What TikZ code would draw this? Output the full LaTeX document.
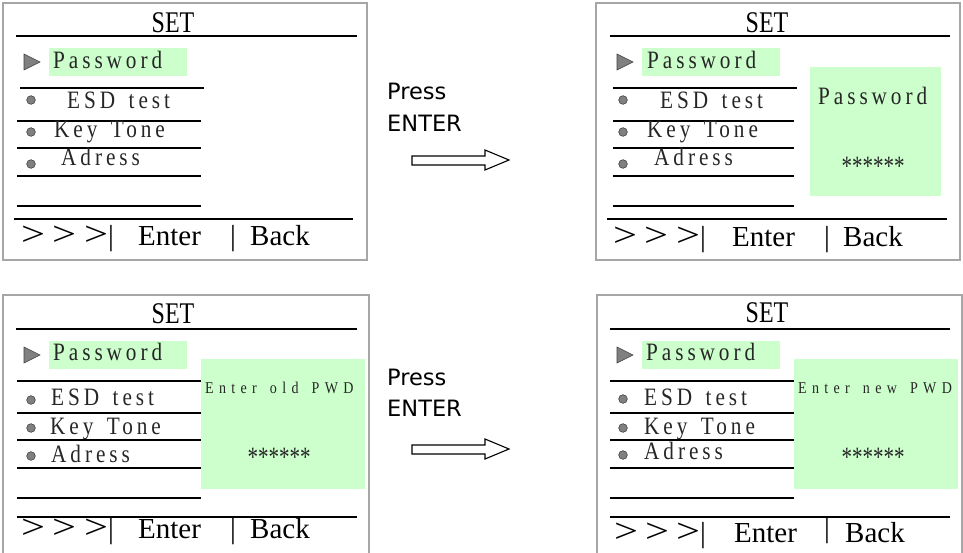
\documentclass[tikz,border=0pt]{standalone}
\usepackage{fontspec}
\setmainfont{Liberation Serif}
\newfontfamily\lcdsp{Liberation Serif}[LetterSpace=18.5]
\newfontfamily\lcdwide{Liberation Serif}[LetterSpace=38]
\newfontfamily\pressfont{DejaVu Sans}
\definecolor{lgreen}{HTML}{CCFFCC}
\definecolor{framegray}{HTML}{A6A6A6}
\tikzset{
  frame/.style={draw=framegray, line width=1.2pt},
  rule/.style={draw=black, line width=1.1pt},
  hl/.style={fill=lgreen},
  tri/.style={fill=black!50, draw=black!75, line width=0.6pt},
  dot/.style={fill=black!50, draw=black!75, line width=0.6pt},
  item/.style={font={\lcdsp\fontsize{25}{25}\selectfont}, inner sep=0pt, anchor=base west, text=black!85},
  small/.style={font={\lcdwide\fontsize{16.5}{16.5}\selectfont}, inner sep=0pt, anchor=base west, text=black!85},
  stars/.style={font={\fontsize{28}{28}\selectfont}, inner sep=0pt, anchor=base, text=black!85},
  settitle/.style={font={\fontsize{30}{30}\selectfont}, inner sep=0pt, anchor=base},
  bot/.style={font={\fontsize{29}{29}\selectfont}, inner sep=0pt, anchor=base west},
  chev/.style={font={\fontsize{34}{34}\selectfont}, inner sep=0pt, anchor=base west},
  press/.style={font={\pressfont\fontsize{22.5}{22.5}\selectfont}, inner sep=0pt, anchor=base west},
  blockarrow/.style={draw=black, line width=1.1pt, fill=white},
}
\newcommand\chevs{\scalebox{1.25}[1]{>}}
\newcommand\starrow{\scalebox{0.75}[1]{******}}
\newcommand\sq[1]{\scalebox{0.85}[1]{#1}}
\newcommand\wsp{\hspace{5pt}}
\begin{document}
\begin{tikzpicture}[x=1pt, y=-1pt]
\useasboundingbox (0,0) rectangle (963,552);
\clip (0,0) rectangle (963,552);

% ================= Panel 1 =================
\draw[frame] (3,3) rectangle (367,260);
\node[settitle] (p1set) at (173,32) {\scalebox{0.8}[1]{SET}};
\draw[rule] (16,36) -- (357,36);
\fill[hl] (49,48) rectangle (187,76);
\draw[tri] (24,54) -- (40,62) -- (24,70) -- cycle;
\node[item] (p1pw) at (53,68) {\sq{Password}};
\draw[rule] (20,88) -- (204,88);
\draw[dot] (31,100) circle[radius=4.3pt];
\node[item] (p1esd) at (67,108) {\sq{ESD \wsp test}};
\draw[rule] (17,121) -- (201,121);
\draw[dot] (31,132) circle[radius=4.3pt];
\node[item] (p1key) at (54,137) {\sq{Key \wsp Tone}};
\draw[rule] (17,148) -- (201,148);
\draw[dot] (31,164) circle[radius=4.3pt];
\node[item] (p1adr) at (61,165) {\sq{Adress}};
\draw[rule] (17,176) -- (201,176);
\draw[rule] (17,206) -- (201,206);
\draw[rule] (14,219) -- (353,219);
\node[chev] (p1c1) at (21,245) {\chevs};
\node[chev] (p1c2) at (52,245) {\chevs};
\node[chev] (p1c3) at (84,245) {\chevs};
\node[bot] (p1b1) at (108,245) {|};
\node[bot] (p1ent) at (138,245) {Enter};
\node[bot] (p1b2) at (230,245) {|};
\node[bot] (p1back) at (250,245) {Back};

% ================= Panel 2 =================
\draw[frame] (596,3) rectangle (960,260);
\node[settitle] (p2set) at (767,32) {\scalebox{0.8}[1]{SET}};
\draw[rule] (610,36) -- (950,36);
\fill[hl] (642,48) rectangle (780,76);
\draw[tri] (617,54) -- (633,62) -- (617,70) -- cycle;
\node[item] (p2pw) at (647,68) {\sq{Password}};
\draw[rule] (613,88) -- (797,88);
\draw[dot] (623,100) circle[radius=4.3pt];
\node[item] (p2esd) at (660,108) {\sq{ESD \wsp test}};
\draw[rule] (613,121) -- (794,121);
\draw[dot] (623,132) circle[radius=4.3pt];
\node[item] (p2key) at (647,137) {\sq{Key \wsp Tone}};
\draw[rule] (613,148) -- (794,148);
\draw[dot] (623,164) circle[radius=4.3pt];
\node[item] (p2adr) at (654,165) {\sq{Adress}};
\draw[rule] (613,176) -- (794,176);
\draw[rule] (613,206) -- (794,206);
\fill[hl] (810,67) rectangle (941,196);
\node[item] (p2pop) at (818,104) {\sq{Password}};
\node[stars] (p2stars) at (873,175) {\starrow};
\draw[rule] (607,219) -- (947,219);
\node[chev] (p2c1) at (613,246) {\chevs};
\node[chev] (p2c2) at (644,246) {\chevs};
\node[chev] (p2c3) at (676,246) {\chevs};
\node[bot] (p2b1) at (700,246) {|};
\node[bot] (p2ent) at (732,246) {Enter};
\node[bot] (p2b2) at (824,246) {|};
\node[bot] (p2back) at (843,246) {Back};

% ================= Panel 3 =================
\draw[frame] (3,560) -- (3,295) -- (369,295) -- (369,560);
\node[settitle] (p3set) at (173,323) {\scalebox{0.8}[1]{SET}};
\draw[rule] (16,329) -- (357,329);
\fill[hl] (49,341) rectangle (187,369);
\draw[tri] (24,347) -- (40,355) -- (24,363) -- cycle;
\node[item] (p3pw) at (53,360) {\sq{Password}};
\draw[rule] (17,381) -- (201,381);
\draw[dot] (31,400) circle[radius=4.3pt];
\node[item] (p3esd) at (51,405) {\sq{ESD \wsp test}};
\draw[rule] (17,413) -- (201,413);
\draw[dot] (31,428) circle[radius=4.3pt];
\node[item] (p3key) at (50,434) {\sq{Key \wsp Tone}};
\draw[rule] (17,440) -- (201,440);
\draw[dot] (31,456) circle[radius=4.3pt];
\node[item] (p3adr) at (51,462) {\sq{Adress}};
\draw[rule] (17,468) -- (201,468);
\draw[rule] (17,498) -- (201,498);
\fill[hl] (201,359) rectangle (365,489);
\node[small] (p3pop) at (205,393) {\sq{Enter \wsp old \wsp PWD}};
\node[stars] (p3stars) at (279,466) {\starrow};
\draw[rule] (17,517) -- (357,517);
\node[chev] (p3c1) at (21,538) {\chevs};
\node[chev] (p3c2) at (52,538) {\chevs};
\node[chev] (p3c3) at (84,538) {\chevs};
\node[bot] (p3b1) at (108,538) {|};
\node[bot] (p3ent) at (138,538) {Enter};
\node[bot] (p3b2) at (230,538) {|};
\node[bot] (p3back) at (250,538) {Back};

% ================= Panel 4 =================
\draw[frame] (597,560) -- (597,295) -- (962,295) -- (962,560);
\node[settitle] (p4set) at (767,322) {\scalebox{0.8}[1]{SET}};
\draw[rule] (610,329) -- (950,329);
\fill[hl] (642,341) rectangle (780,369);
\draw[tri] (617,347) -- (633,355) -- (617,363) -- cycle;
\node[item] (p4pw) at (646,360) {\sq{Password}};
\draw[rule] (610,381) -- (794,381);
\draw[dot] (623,399) circle[radius=4.3pt];
\node[item] (p4esd) at (644,405) {\sq{ESD \wsp test}};
\draw[rule] (610,413) -- (794,413);
\draw[dot] (623,428) circle[radius=4.3pt];
\node[item] (p4key) at (644,434) {\sq{Key \wsp Tone}};
\draw[rule] (610,440) -- (794,440);
\draw[dot] (623,455) circle[radius=4.3pt];
\node[item] (p4adr) at (644,459) {\sq{Adress}};
\draw[rule] (610,468) -- (794,468);
\draw[rule] (610,498) -- (794,498);
\fill[hl] (794,359) rectangle (958,489);
\node[small] (p4pop) at (798,393) {\sq{Enter \wsp new \wsp PWD}};
\node[stars] (p4stars) at (873,466) {\starrow};
\draw[rule] (610,517) -- (950,517);
\node[chev] (p4c1) at (614,542) {\chevs};
\node[chev] (p4c2) at (645,542) {\chevs};
\node[chev] (p4c3) at (676,542) {\chevs};
\node[bot] (p4b1) at (700,542) {|};
\node[bot] (p4ent) at (734,542) {Enter};
\node[bot] (p4b2) at (824,537) {|};
\node[bot] (p4back) at (845,542) {Back};

% ================= Press ENTER labels and arrows =================
\node[press] (t1a) at (387,99) {Press};
\node[press] (t1b) at (387,131) {ENTER};
\draw[blockarrow] (412,156) -- (485,156) -- (485,150) -- (509,160) -- (485,170) -- (485,165) -- (412,165) -- cycle;
\node[press] (t2a) at (387,385) {Press};
\node[press] (t2b) at (387,416) {ENTER};
\draw[blockarrow] (412,445) -- (485,445) -- (485,439) -- (509,449) -- (485,459) -- (485,454) -- (412,454) -- cycle;
\end{tikzpicture}
\end{document}
